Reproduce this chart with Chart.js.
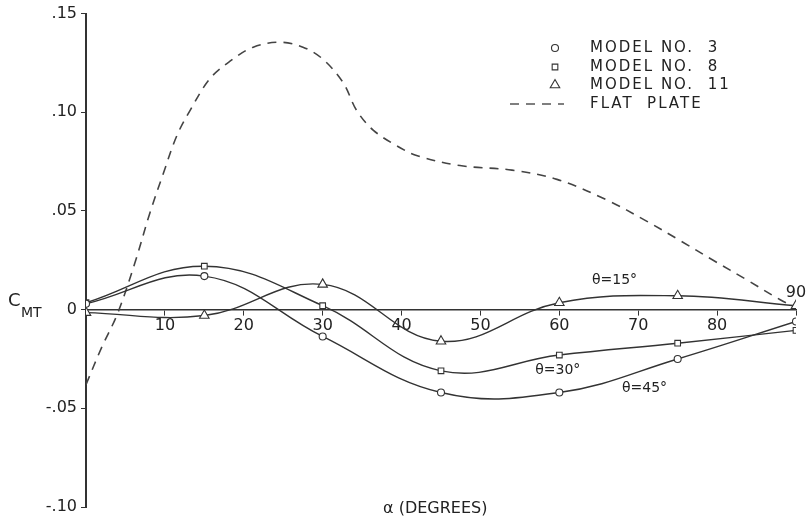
<!DOCTYPE html>
<html>
<head>
<meta charset="utf-8">
<script src="https://cdn.jsdelivr.net/npm/chart.js@4"></script>
<style>
  html, body { margin: 0; padding: 0; background: #fff; }
  #wrap { width: 808px; height: 522px; }
</style>
</head>
<body>
<div id="wrap"><canvas id="chart" width="808" height="522"></canvas></div>
<script>
// alpha (degrees) where the models were measured
const alphas = [0, 15, 30, 45, 60, 75, 90];
const model3 = [0.003, 0.017, -0.0136, -0.042, -0.042, -0.025, -0.006];   // theta = 45
const model8 = [0.0035, 0.022, 0.002, -0.031, -0.023, -0.017, -0.0105];   // theta = 30
const model11 = [-0.0015, -0.003, 0.0128, -0.016, 0.0035, 0.007, 0.002];  // theta = 15

// flat plate curve
const plateAlpha = [0, 2, 4, 6.2, 8.1, 9.8, 11.5, 13.2, 15.7, 18.3, 21.2, 24.6, 27.5, 30, 32.6, 34.3, 36.4, 39.4, 42, 47.4, 54, 59.7, 66, 71, 75.3, 79.5, 83.8, 88, 90];
const plateCmt = [-0.038, -0.019, -0.002, 0.0237, 0.049, 0.069, 0.088, 0.101, 0.117, 0.126, 0.133, 0.1355, 0.133, 0.127, 0.115, 0.101, 0.091, 0.083, 0.078, 0.073, 0.0707, 0.066, 0.0556, 0.045, 0.035, 0.025, 0.015, 0.005, 0.001];

const legendLabels = ["MODEL NO.  3", "MODEL NO.  8", "MODEL NO.  11", "FLAT  PLATE"];
const curveNotes = [
    { text: "\u03B8=15\u00B0", a: 67, c: 0.015 },
    { text: "\u03B8=30\u00B0", a: 59.8, c: -0.031 },
    { text: "\u03B8=45\u00B0", a: 70.8, c: -0.040 },
];

const INK = "#333";
const FONT = '"DejaVu Sans", sans-serif';

const toXY = (xs, ys) => xs.map((x, i) => ({ x: x, y: ys[i] }));

function modelSet(label, data, style, radius) {
    return {
        label: label,
        data: toXY(alphas, data),
        borderColor: INK,
        borderWidth: 1.4,
        backgroundColor: "#fff",
        pointStyle: style,
        pointRadius: radius,
        pointBorderWidth: 1.1,
        pointBorderColor: INK,
        pointBackgroundColor: "#fff",
        tension: 0.4,
    };
}

const extras = {
    id: "extras",
    afterDatasetsDraw(chart) {
        const ctx = chart.ctx;
        const xs = chart.scales.x, ys = chart.scales.y;
        ctx.save();
        ctx.fillStyle = "#222";
        ctx.textBaseline = "middle";

        // legend
        const sets = chart.data.datasets;
        const lx = 555, tx = 590, rows = [48, 67, 85, 104];
        ctx.font = "15px " + FONT;
        ctx.letterSpacing = "2px";
        sets.forEach((ds, i) => {
            const y = rows[i];
            if (ds.pointStyle && ds.pointRadius) {
                ctx.strokeStyle = INK;
                ctx.fillStyle = "#fff";
                ctx.lineWidth = 1.1;
                Chart.helpers.drawPoint(ctx, { pointStyle: ds.pointStyle, radius: ds.pointRadius, rotation: 0, borderWidth: 1.1 }, lx, y);
            } else {
                ctx.strokeStyle = "#555";
                ctx.lineWidth = 1.6;
                ctx.setLineDash([9, 7]);
                ctx.beginPath();
                ctx.moveTo(510, y);
                ctx.lineTo(564, y);
                ctx.stroke();
                ctx.setLineDash([]);
            }
            ctx.fillStyle = "#222";
            ctx.textAlign = "left";
            ctx.fillText(legendLabels[i], tx, y);
        });

        // notes on the curves
        ctx.font = "14px " + FONT;
        ctx.letterSpacing = "0px";
        ctx.textAlign = "center";
        curveNotes.forEach(n => {
            ctx.fillText(n.text, xs.getPixelForValue(n.a), ys.getPixelForValue(n.c));
        });

        // 90 sits above the axis
        ctx.font = "16px " + FONT;
        ctx.fillText("90", xs.getPixelForValue(90), ys.getPixelForValue(0) - 17);

        // axis titles
        ctx.textAlign = "left";
        ctx.font = "18px " + FONT;
        ctx.fillText("C", 8, 301);
        ctx.font = "14px " + FONT;
        ctx.fillText("MT", 21, 313);
        ctx.font = "16px " + FONT;
        ctx.fillText("\u03B1 (DEGREES)", 383, 509);
        ctx.restore();
    },
};

new Chart(document.getElementById("chart"), {
    type: "line",
    data: {
        datasets: [
            modelSet("MODEL NO. 3", model3, "circle", 3.5),
            modelSet("MODEL NO. 8", model8, "rect", 4),
            modelSet("MODEL NO. 11", model11, "triangle", 5.5),
            {
                label: "FLAT PLATE",
                data: toXY(plateAlpha, plateCmt),
                borderColor: "#444",
                borderWidth: 1.6,
                borderDash: [9, 7],
                pointRadius: 0,
                tension: 0.35,
            },
        ],
    },
    options: {
        responsive: false,
        animation: false,
        layout: { padding: { left: 0, right: 12, top: 12, bottom: 15 } },
        plugins: { legend: { display: false }, tooltip: { enabled: false } },
        scales: {
            x: {
                type: "linear",
                min: 0,
                max: 90,
                position: { y: 0 },
                border: { color: INK, width: 1.6 },
                grid: { drawOnChartArea: false, tickLength: 5, color: INK },
                ticks: {
                    stepSize: 10,
                    color: "#222",
                    padding: 2,
                    font: { family: FONT, size: 16 },
                    callback: v => (v === 0 || v === 90 ? "" : v),
                },
            },
            y: {
                min: -0.1,
                max: 0.15,
                afterFit: s => { s.width = 86; },
                border: { color: INK, width: 2 },
                grid: { drawOnChartArea: false, tickLength: 5, color: INK },
                ticks: {
                    stepSize: 0.05,
                    color: "#222",
                    padding: 4,
                    font: { family: FONT, size: 16 },
                    callback: v => {
                        const r = Math.round(v * 100) / 100;
                        if (r === 0) return "0";
                        return r.toFixed(2).replace("0.", ".");
                    },
                },
            },
        },
    },
    plugins: [extras],
});
</script>
</body>
</html>
